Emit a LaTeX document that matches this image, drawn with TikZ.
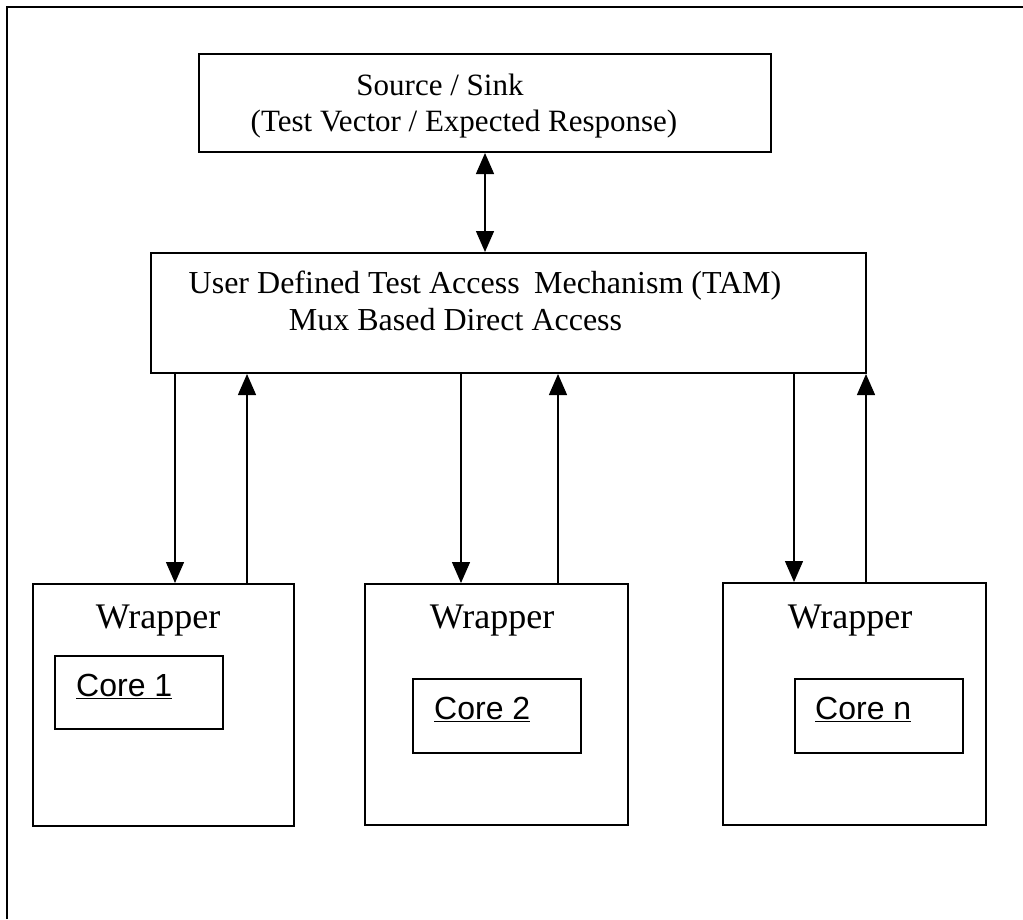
\documentclass[tikz,border=0pt]{standalone}
\usepackage{fontspec}
\setmainfont{Liberation Serif}
\newfontfamily\arialfont{Liberation Sans}
\usetikzlibrary{arrows.meta,calc}

\begin{document}
\begin{tikzpicture}[x=1pt,y=-1pt,
  box/.style={draw, line width=2pt, inner sep=0pt},
  label/.style={inner sep=0pt, anchor=base, font=\fontsize{31}{36}\selectfont},
  tamlabel/.style={inner sep=0pt, anchor=base, font=\fontsize{32}{38}\selectfont},
  wraplabel/.style={inner sep=0pt, anchor=base, font=\fontsize{36}{42}\selectfont},
  corelabel/.style={inner sep=0pt, anchor=base west, font=\arialfont\fontsize{32}{38}\selectfont},
  link/.style={line width=1.4pt, -{Triangle[length=21pt,width=18pt]}},
  duplex/.style={line width=1.4pt, {Triangle[length=21pt,width=18pt]}-{Triangle[length=21pt,width=18pt]}}
]
\useasboundingbox (0,0) rectangle (1023,919);

% frame: top and left edges only
\coordinate (fl) at (7,919);
\coordinate (fc) at (7,7);
\coordinate (fr) at (1023,7);
\draw[line width=2pt] (fl) -- (fc) -- (fr);

% source / sink
\node[box, minimum width=572pt, minimum height=98pt] (src) at (485,103) {};
\node[label] (srcA) at (440,95) {Source / Sink};
\node[label] (srcB) at (464,131) {(Test Vector / Expected Response)};

% test access mechanism
\node[box, minimum width=715pt, minimum height=120pt] (tam) at (508.5,313) {};
\node[tamlabel] (tamA) at (485,293) {User Defined Test Access\hspace{0.45em}Mechanism (TAM)};
\node[tamlabel] (tamB) at (455.5,330) {Mux Based Direct Access};

\draw[duplex] (src.south) -- (tam.north -| src.south);

% wrappers
\node[box, minimum width=261pt, minimum height=242pt] (w1) at (163.5,705) {};
\node[box, minimum width=263pt, minimum height=241pt] (w2) at (496.5,704.5) {};
\node[box, minimum width=263pt, minimum height=242pt] (w3) at (854.5,704) {};
\node[wraplabel] (w1t) at (158,628) {Wrapper};
\node[wraplabel] (w2t) at (492,628) {Wrapper};
\node[wraplabel] (w3t) at (850,628) {Wrapper};

% cores
\node[box, minimum width=168pt, minimum height=73pt] (c1) at (139,692.5) {};
\node[box, minimum width=168pt, minimum height=74pt] (c2) at (497,716) {};
\node[box, minimum width=168pt, minimum height=74pt] (c3) at (879,716) {};
\node[corelabel] (c1t) at (76,696) {\underline{Core 1}};
\node[corelabel] (c2t) at (434,719) {\underline{Core 2}};
\node[corelabel] (c3t) at (815,719) {\underline{Core n}};

% TAM <-> wrapper links
\coordinate (d1) at (175,0);
\coordinate (u1) at (247,0);
\coordinate (d2) at (461,0);
\coordinate (u2) at (558,0);
\coordinate (d3) at (794,0);
\coordinate (u3) at (866,0);
\draw[link] (d1 |- tam.south) -- (d1 |- w1.north);
\draw[link] (u1 |- w1.north) -- (u1 |- tam.south);
\draw[link] (d2 |- tam.south) -- (d2 |- w2.north);
\draw[link] (u2 |- w2.north) -- (u2 |- tam.south);
\draw[link] (d3 |- tam.south) -- (d3 |- w3.north);
\draw[link] (u3 |- w3.north) -- (u3 |- tam.south);
\end{tikzpicture}
\end{document}
